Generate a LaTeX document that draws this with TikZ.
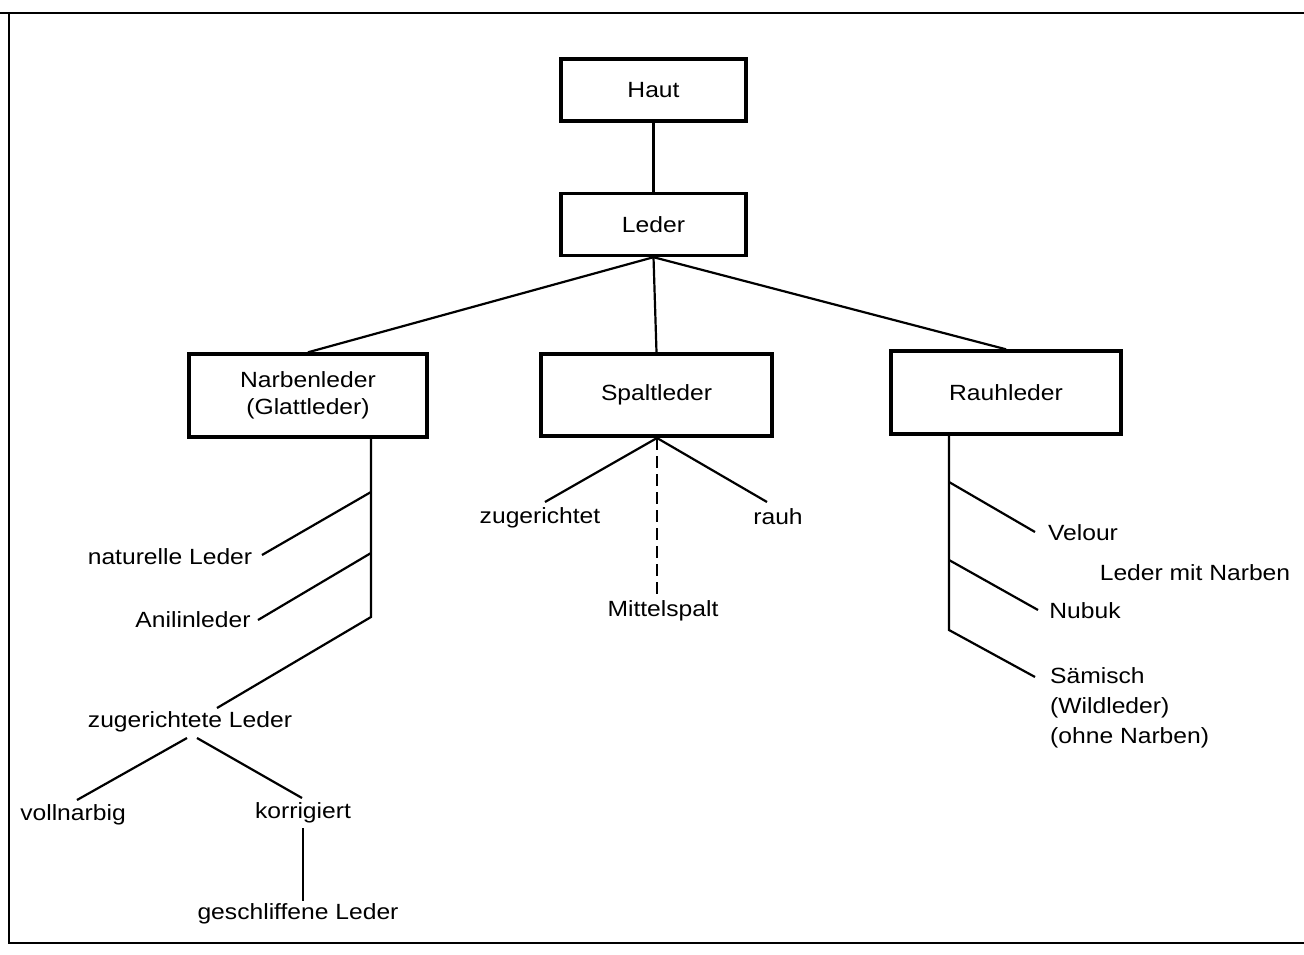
\documentclass[tikz,border=0pt]{standalone}
\usepackage{fontspec}
\setmainfont{Liberation Sans}[FakeStretch=1.12]
\newcommand{\fsz}{\fontsize{22}{27}\selectfont}
\begin{document}
\begin{tikzpicture}[x=1pt,y=-1pt,
  box/.style={draw, line width=3.4pt, inner sep=0pt, align=center, font=\fsz},
  lbl/.style={inner sep=0pt, font=\fsz},
  conn/.style={line width=2.2pt},
  frame/.style={line width=2pt}]
\useasboundingbox (0,0) rectangle (1304,955);
% frame
\coordinate (ftl) at (0,13);
\coordinate (ftr) at (1304,13);
\coordinate (fl) at (9,13);
\coordinate (fbl) at (9,943);
\coordinate (fbr) at (1304,943);
\draw[frame] (ftl) -- (ftr);
\draw[frame] (fl) -- (fbl) -- (fbr);
% boxes
\node[box, minimum width=185pt, minimum height=62pt] (haut) at (653.5,90) {Haut};
\node[box, minimum width=185pt, minimum height=62pt] (leder) at (653.5,224.5) {Leder};
\node[box, minimum width=238pt, minimum height=83pt] (narben) at (308,395.5) {Narbenleder\\(Glattleder)};
\node[box, minimum width=231pt, minimum height=82pt] (spalt) at (656.5,395) {Spaltleder};
\node[box, minimum width=230pt, minimum height=83pt] (rauh) at (1006,392.5) {Rauhleder};
\draw[conn] (haut) -- (leder);
\draw[conn] (leder.south) -- (narben.north);
\draw[conn] (leder.south) -- (spalt.north);
\draw[conn] (leder.south) -- (rauh.north);
% left branch
\node[lbl] (natur) at (170,557) {naturelle Leder};
\node[lbl] (anilin) at (193,620) {Anilinleder};
\node[lbl] (zugl) at (190,722) {zugerichtete Leder};
\node[lbl] (voll) at (73,815) {vollnarbig};
\node[lbl] (korr) at (303,813) {korrigiert};
\node[lbl] (geschl) at (298,914) {geschliffene Leder};
\coordinate (nbtop) at (371,437);
\coordinate (nb1) at (371,492);
\coordinate (nb2) at (371,553);
\coordinate (nb3) at (371,617);
\coordinate (nat) at (262,555);
\coordinate (ani) at (258,620);
\coordinate (zug) at (217,708);
\draw[conn] (nbtop) -- (nb3) -- (zug);
\draw[conn] (nb1) -- (nat);
\draw[conn] (nb2) -- (ani);
\coordinate (z1) at (187,738);
\coordinate (z2) at (197,738);
\coordinate (vo) at (77,800);
\coordinate (ko) at (302,798);
\draw[conn] (z1) -- (vo);
\draw[conn] (z2) -- (ko);
\coordinate (k1) at (303,828);
\coordinate (k2) at (303,901);
\draw[conn] (k1) -- (k2);
% middle branch
\node[lbl] (zugm) at (540,518) {zugerichtet};
\node[lbl] (rauhl) at (778,517) {rauh};
\node[lbl] (mittel) at (663,611) {Mittelspalt};
\coordinate (sp) at (657,438);
\coordinate (zm) at (545,502);
\coordinate (ra) at (767,502);
\coordinate (mi) at (657,599);
\draw[conn] (sp) -- (zm);
\draw[conn] (sp) -- (ra);
\draw[conn, dash pattern=on 12pt off 6pt] (sp) -- (mi);
% right branch
\node[lbl] (velour) at (1083,533) {Velour};
\node[lbl] (mitnarb) at (1195,573) {Leder mit Narben};
\node[lbl] (nubuk) at (1085,611) {Nubuk};
\node[lbl, align=left, anchor=north west, font=\fontsize{22}{30}\selectfont] (saem) at (1050,667) {Sämisch\\(Wildleder)\\(ohne Narben)};
\coordinate (rtop) at (949,435);
\coordinate (r1) at (949,482);
\coordinate (r2) at (949,560);
\coordinate (r3) at (949,630);
\coordinate (ve) at (1035,532);
\coordinate (nu) at (1038,610);
\coordinate (sa) at (1035,677);
\draw[conn] (rtop) -- (r3) -- (sa);
\draw[conn] (r1) -- (ve);
\draw[conn] (r2) -- (nu);
\end{tikzpicture}
\end{document}
